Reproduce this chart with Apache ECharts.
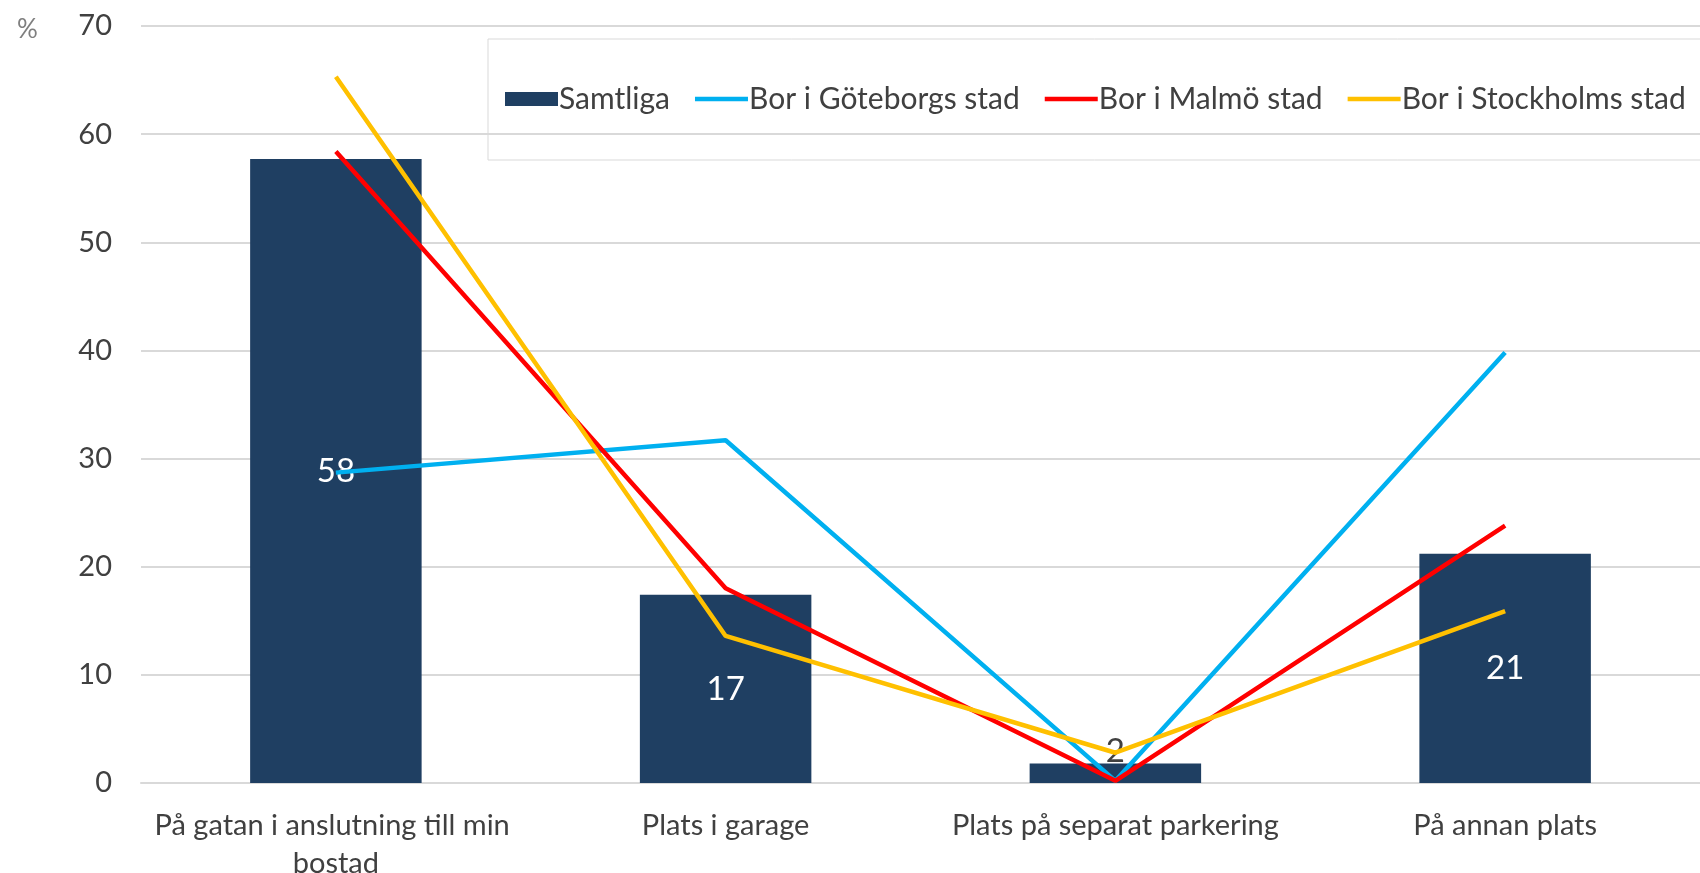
<!DOCTYPE html>
<html>
<head>
<meta charset="utf-8">
<script src="https://cdn.jsdelivr.net/npm/echarts@6/dist/echarts.min.js"></script>
<style>
  html, body { margin: 0; padding: 0; background: #fff; }
  #chart { width: 1700px; height: 873px; }
</style>
</head>
<body>
<div id="chart"></div>
<script>
const categories = ['På gatan i anslutning till min bostad', 'Plats i garage', 'Plats på separat parkering', 'På annan plats']
const samtliga = [57.7, 17.4, 1.8, 21.2]
const goteborg = [28.7, 31.7, 0.2, 39.8]
const malmo = [58.4, 18.0, 0.2, 23.8]
const stockholm = [65.3, 13.6, 2.8, 15.9]

const fontFamily = 'Lato, "Open Sans", sans-serif'
const textColor = '#404040'
// flat line used as the legend marker of the line series
const lineIcon = 'path://M0,0 H53 V4.5 H0 Z'

const chart = echarts.init(document.getElementById('chart'))

// the small "2" bar label does not fit inside the bar, so it sits on top in dark text
const barData = samtliga.map(v => {
  if (v < 5) {
    return { value: v, label: { position: 'top', distance: -4, color: textColor } }
  }
  return v
})

function lineSeries(name, data, color) {
  return {
    name: name,
    type: 'line',
    data: data,
    symbol: 'none',
    z: 3,
    lineStyle: { color: color, width: 4.5 },
    itemStyle: { color: color }
  }
}

chart.setOption({
  animation: false,
  textStyle: { fontFamily: fontFamily },
  title: {
    text: '%',
    left: 12,
    top: 12,
    textStyle: { color: '#7f7f7f', fontSize: 26, fontWeight: 'normal', fontFamily: fontFamily }
  },
  grid: {
    left: 141,
    right: 0,
    top: 26,
    bottom: 90,
    outerBoundsMode: 'none'
  },
  legend: {
    left: 488,
    top: 39,
    width: 1200,
    padding: [45, 40, 46, 17],
    borderColor: '#d9d9d9',
    borderWidth: 1,
    itemWidth: 53,
    itemHeight: 14,
    itemGap: 25,
    itemStyle: { borderWidth: 0 },
    textStyle: { color: textColor, fontSize: 30, fontFamily: fontFamily, padding: [0, 0, 0, -4] },
    data: [
      { name: 'Samtliga', icon: 'rect' },
      { name: 'Bor i Göteborgs stad', icon: lineIcon },
      { name: 'Bor i Malmö stad', icon: lineIcon },
      { name: 'Bor i Stockholms stad', icon: lineIcon }
    ]
  },
  xAxis: {
    type: 'category',
    data: categories,
    axisTick: { show: false },
    axisLine: { lineStyle: { color: '#d9d9d9', width: 2 } },
    axisLabel: {
      interval: 0,
      color: textColor,
      fontSize: 29,
      lineHeight: 38,
      margin: 24,
      width: 390,
      overflow: 'break'
    }
  },
  yAxis: {
    type: 'value',
    min: 0,
    max: 70,
    interval: 10,
    axisLine: { show: false },
    axisTick: { show: false },
    splitLine: { lineStyle: { color: '#d9d9d9', width: 2 } },
    axisLabel: { color: textColor, fontSize: 29, margin: 29 }
  },
  series: [
    {
      name: 'Samtliga',
      type: 'bar',
      data: barData,
      barWidth: '44%',
      itemStyle: { color: '#1f3f62' },
      label: {
        show: true,
        position: 'inside',
        color: '#fff',
        fontSize: 33,
        fontFamily: fontFamily,
        formatter: p => Math.round(p.value)
      }
    },
    lineSeries('Bor i Göteborgs stad', goteborg, '#00b0f0'),
    lineSeries('Bor i Malmö stad', malmo, '#ff0000'),
    lineSeries('Bor i Stockholms stad', stockholm, '#ffc000')
  ]
})
</script>
</body>
</html>
